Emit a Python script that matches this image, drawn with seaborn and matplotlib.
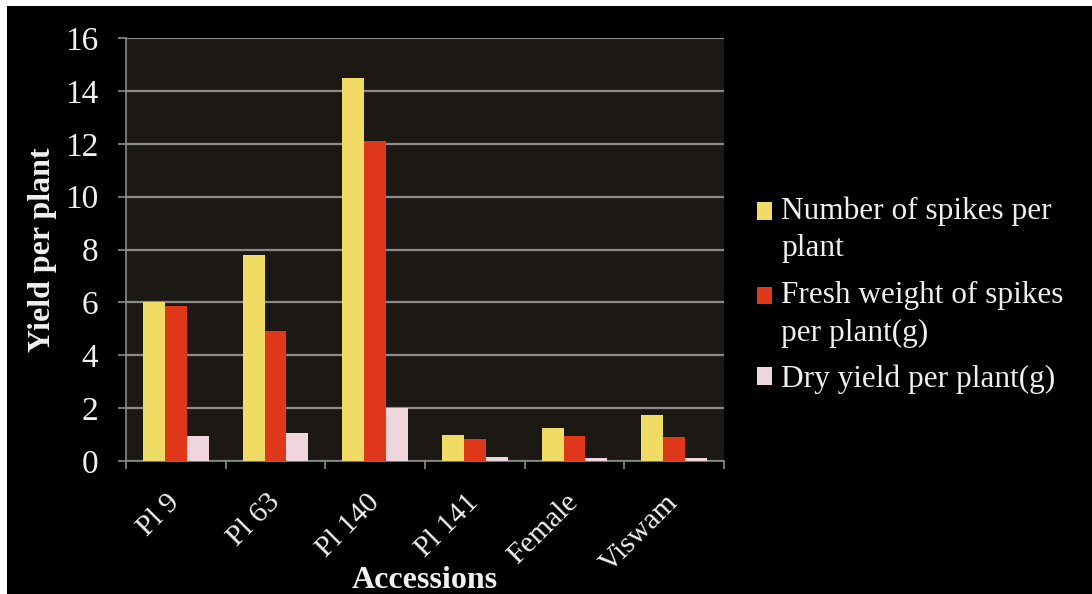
import matplotlib
matplotlib.use("Agg")
import matplotlib.pyplot as plt
import matplotlib.patches as mpatches
from matplotlib.legend_handler import HandlerPatch
from matplotlib.ticker import FixedLocator
import seaborn as sns
import pandas as pd

accessions = ["Pl 9", "Pl 63", "Pl 140", "Pl 141", "Female", "Viswam"]
spikes_per_plant = [6.0, 7.8, 14.5, 1.0, 1.25, 1.75]
fresh_weight = [5.85, 4.9, 12.1, 0.85, 0.95, 0.9]
dry_yield = [0.95, 1.05, 2.0, 0.15, 0.13, 0.1]
series_names = ["Number of spikes per\nplant",
                "Fresh weight of spikes\nper plant(g)",
                "Dry yield per plant(g)"]
series_colors = ["#f0dc64", "#e0381a", "#eed6dc"]

df = pd.DataFrame({
    "Accession": accessions * 3,
    "Value": spikes_per_plant + fresh_weight + dry_yield,
    "Series": sum([[s] * len(accessions) for s in series_names], []),
})

sns.set_theme(style="dark")
plt.rcParams["font.family"] = ["Liberation Serif", "DejaVu Serif"]

fig = plt.figure(figsize=(10.92, 5.94), dpi=100, facecolor="white")
# black slide background inside a thin white margin
fig.patches.append(mpatches.Rectangle((7 / 1092, -0.1), 1.2, 1.1 - 6 / 594,
                                      transform=fig.transFigure,
                                      facecolor="black", edgecolor="none",
                                      zorder=-10))
ax = fig.add_axes([126 / 1092, 1 - 461 / 594, (724 - 126) / 1092, (461 - 38) / 594])
ax.set_facecolor("#1c1814")

sns.barplot(data=df, x="Accession", y="Value", hue="Series",
            palette=series_colors, width=0.66, ax=ax, legend=True,
            saturation=1, edgecolor="none", zorder=3)

ax.set_ylim(0, 16)
ax.set_xlim(-0.5, 5.5)
ax.set_yticks(range(0, 17, 2))
ax.yaxis.grid(True, color="#8a8a8a", linewidth=1.6, zorder=0)
ax.xaxis.grid(False)

ax.xaxis.set_minor_locator(FixedLocator([i - 0.5 for i in range(7)]))
ax.tick_params(axis="x", which="major", length=0, colors="#f0f0f0",
               labelsize=21.5, pad=27)
ax.tick_params(axis="x", which="minor", length=6, width=1.2, color="#8a8a8a",
               direction="out", bottom=True)
ax.tick_params(axis="y", length=6, width=1.2, color="#8a8a8a", direction="out",
               left=True, colors="#f0f0f0", labelsize=24, pad=14)
for lbl in ax.get_xticklabels():
    lbl.set_rotation(45)
    lbl.set_ha("right")
    lbl.set_va("center")
    lbl.set_rotation_mode("anchor")
for lbl in ax.get_yticklabels():
    lbl.set_color("#f0f0f0")

for side in ["top", "right"]:
    ax.spines[side].set_visible(False)
for side in ["left", "bottom"]:
    ax.spines[side].set_visible(True)
    ax.spines[side].set_color("#8a8a8a")
    ax.spines[side].set_linewidth(1.2)

ax.set_xlabel("Accessions", color="#f0f0f0", fontsize=23, fontweight="bold",
              labelpad=-8)
ax.set_ylabel("Yield per plant", color="#f0f0f0", fontsize=23, fontweight="bold",
              labelpad=6)

# legend swatches sit beside the first line of each label
legend_fs = 22.5
handles, labels = ax.get_legend_handles_labels()


def top_aligned(nlines):
    def make(legend, orig_handle, xdescent, ydescent, width, height, fontsize):
        shift = 0.6 * fontsize * (nlines - 1)
        return mpatches.Rectangle((-xdescent, -ydescent + shift), width, height)
    return make


handler_map = {h: HandlerPatch(patch_func=top_aligned(lab.count("\n") + 1))
               for h, lab in zip(handles, labels)}
leg = ax.legend(handles, labels, loc="center left", bbox_to_anchor=(1.008, 0.392),
                frameon=False, fontsize=legend_fs, handlelength=0.48,
                handleheight=0.48, handletextpad=0.3, labelspacing=0.55,
                handler_map=handler_map)
for t in leg.get_texts():
    t.set_color("#f0f0f0")
    t.set_linespacing(1.4)

fig.savefig("out.png", dpi=100, facecolor=fig.get_facecolor())
